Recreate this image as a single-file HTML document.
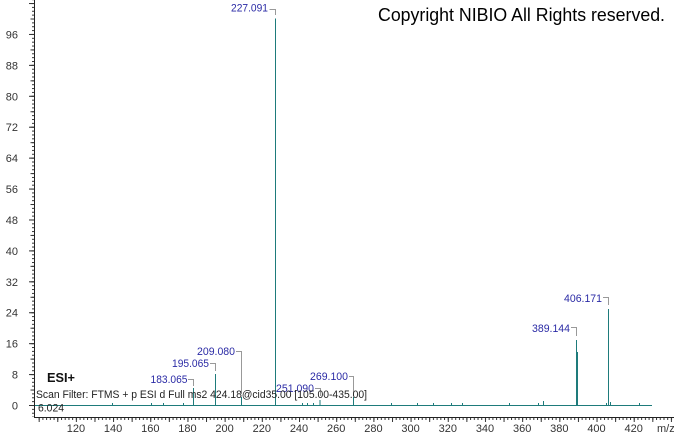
<!DOCTYPE html>
<html><head><meta charset="utf-8"><style>
html,body{margin:0;padding:0;background:#fff;}
svg{display:block;}
text{font-family:"Liberation Sans",Arial,sans-serif;}
</style></head><body>
<svg width="674" height="434" viewBox="0 0 674 434" xmlns="http://www.w3.org/2000/svg">
<defs>
<pattern id="xt" x="38.68" y="0" width="3.719" height="20" patternUnits="userSpaceOnUse"><rect x="0" y="0" width="1" height="20" fill="#333"/></pattern>
<pattern id="xT" x="38.68" y="0" width="18.595" height="20" patternUnits="userSpaceOnUse"><rect x="0" y="0" width="1" height="20" fill="#333"/></pattern>
<pattern id="yt" x="0" y="405" width="20" height="3.865" patternUnits="userSpaceOnUse"><rect x="0" y="0" width="20" height="1" fill="#333"/></pattern>
<pattern id="yM" x="0" y="405" width="20" height="15.46" patternUnits="userSpaceOnUse"><rect x="0" y="0" width="20" height="1" fill="#333"/></pattern>
<pattern id="yB" x="0" y="405" width="20" height="30.92" patternUnits="userSpaceOnUse"><rect x="0" y="0" width="20" height="1" fill="#333"/></pattern>
</defs>
<rect width="674" height="434" fill="#fff"/>

<!-- axes -->
<line x1="34.5" y1="0" x2="34.5" y2="418" stroke="#222" stroke-width="1"/>
<line x1="34" y1="417.5" x2="674" y2="417.5" stroke="#222" stroke-width="1"/>
<!-- y ticks -->
<rect x="32" y="0" width="2" height="417" fill="url(#yt)"/>
<rect x="30.5" y="0" width="3.5" height="417" fill="url(#yM)"/>
<rect x="29" y="0" width="5" height="417" fill="url(#yB)"/>
<!-- x ticks -->
<rect x="36" y="418" width="638" height="2" fill="url(#xt)"/>
<rect x="36" y="418" width="638" height="4" fill="url(#xT)"/>

<!-- y labels -->
<g font-size="11" fill="#333" text-anchor="end">
<text x="18" y="409.5">0</text>
<text x="18" y="378.6">8</text>
<text x="18" y="347.7">16</text>
<text x="18" y="316.7">24</text>
<text x="18" y="285.8">32</text>
<text x="18" y="254.9">40</text>
<text x="18" y="224">48</text>
<text x="18" y="193.1">56</text>
<text x="18" y="162.1">64</text>
<text x="18" y="131.2">72</text>
<text x="18" y="100.3">80</text>
<text x="18" y="69.4">88</text>
<text x="18" y="38.5">96</text>
</g>
<!-- x labels -->
<g font-size="11" fill="#333" text-anchor="middle">
<text x="75.9" y="432">120</text>
<text x="113.1" y="432">140</text>
<text x="150.3" y="432">160</text>
<text x="187.4" y="432">180</text>
<text x="224.6" y="432">200</text>
<text x="261.8" y="432">220</text>
<text x="299" y="432">240</text>
<text x="336.2" y="432">260</text>
<text x="373.4" y="432">280</text>
<text x="410.6" y="432">300</text>
<text x="447.8" y="432">320</text>
<text x="485" y="432">340</text>
<text x="522.2" y="432">360</text>
<text x="559.3" y="432">380</text>
<text x="596.5" y="432">400</text>
<text x="633.7" y="432">420</text>
<text x="657" y="432" text-anchor="start">m/z</text>
</g>

<!-- leader lines -->
<g stroke="#999" stroke-width="1" fill="none">
<path d="M269.5 9.5 H275.5 V15"/>
<path d="M603 297.5 H608.5 V305"/>
<path d="M571 327.5 H576.5 V336"/>
<path d="M349 376.5 H353.5 V396"/>
<path d="M315 388.5 H320.5 V396"/>
<path d="M236 351.5 H241.5 V394"/>
<path d="M210 363.5 H215.5 V371"/>
<path d="M188 379.5 H193.5 V386"/>
</g>

<!-- spectrum -->
<g stroke="#1e7b7b" stroke-width="1" fill="none">
<line x1="35" y1="405.5" x2="652" y2="405.5"/>
<line x1="275.5" y1="18.5" x2="275.5" y2="405"/>
<line x1="608.5" y1="309" x2="608.5" y2="405"/>
<line x1="576.5" y1="340" x2="576.5" y2="405"/>
<line x1="577.5" y1="352" x2="577.5" y2="405"/>
<line x1="193.5" y1="388" x2="193.5" y2="405"/>
<line x1="215.5" y1="374" x2="215.5" y2="405"/>
<line x1="241.5" y1="397" x2="241.5" y2="405"/>
<line x1="320" y1="400" x2="320" y2="405"/>
<line x1="353.5" y1="397" x2="353.5" y2="405"/>
<line x1="543.5" y1="401" x2="543.5" y2="405"/>
<line x1="610.5" y1="402" x2="610.5" y2="405"/>
<path d="M112.5 403V405M151.5 403V405M163.5 403V405M183.5 403V405M302.5 403V405M307.5 403V405M313.5 403V405M391.5 403V405M417.5 403V405M433.5 403V405M451.5 403V405M462.5 403V405M509.5 403V405M538.5 403V405M606.5 403V405M639.5 403V405"/>
</g>

<!-- peak labels -->
<g font-size="11" fill="#2a2aa5" text-anchor="end">
<text x="268" y="11.5" textLength="37" lengthAdjust="spacingAndGlyphs">227.091</text>
<text x="602" y="302" textLength="38" lengthAdjust="spacingAndGlyphs">406.171</text>
<text x="570" y="332" textLength="38" lengthAdjust="spacingAndGlyphs">389.144</text>
<text x="348" y="380" textLength="38" lengthAdjust="spacingAndGlyphs">269.100</text>
<text x="314" y="392" textLength="38" lengthAdjust="spacingAndGlyphs">251.090</text>
<text x="235" y="355" textLength="38" lengthAdjust="spacingAndGlyphs">209.080</text>
<text x="209" y="367" textLength="37" lengthAdjust="spacingAndGlyphs">195.065</text>
<text x="187.5" y="383" textLength="37" lengthAdjust="spacingAndGlyphs">183.065</text>
</g>

<!-- annotations -->
<text x="47" y="382" font-size="13" font-weight="bold" fill="#111" textLength="28" lengthAdjust="spacingAndGlyphs">ESI+</text>
<text x="36" y="398" font-size="11" fill="#222" textLength="331" lengthAdjust="spacingAndGlyphs">Scan Filter: FTMS + p ESI d Full ms2 424.18@cid35.00 [105.00-435.00]</text>
<text x="38" y="411.5" font-size="11" fill="#222" textLength="26" lengthAdjust="spacingAndGlyphs">6.024</text>
<text x="378" y="21" font-size="18" fill="#000" textLength="287" lengthAdjust="spacingAndGlyphs">Copyright NIBIO All Rights reserved.</text>
</svg>
</body></html>
